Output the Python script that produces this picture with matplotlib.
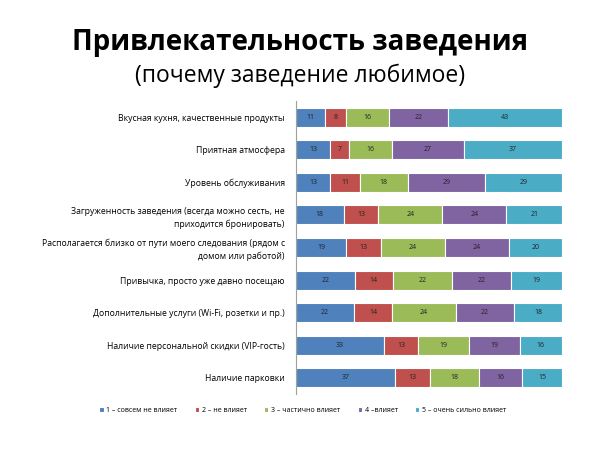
import matplotlib.pyplot as plt
import numpy as np

plt.rcParams['font.family'] = ['Open Sans', 'DejaVu Sans']

categories = [
    'Вкусная кухня, качественные продукты',
    'Приятная атмосфера',
    'Уровень обслуживания',
    'Загруженность заведения (всегда можно сесть, не\nприходится бронировать)',
    'Располагается близко от пути моего следования (рядом с\nдомом или работой)',
    'Привычка, просто уже давно посещаю',
    'Дополнительные услуги (Wi-Fi, розетки и пр.)',
    'Наличие персональной скидки (VIP-гость)',
    'Наличие парковки',
]
series_names = ['1 – совсем не влияет', '2 – не влияет', '3 – частично влияет',
                '4 –влияет', '5 – очень сильно влияет']
s1 = [11, 13, 13, 18, 19, 22, 22, 33, 37]
s2 = [8, 7, 11, 13, 13, 14, 14, 13, 13]
s3 = [16, 16, 18, 24, 24, 22, 24, 19, 18]
s4 = [22, 27, 29, 24, 24, 22, 22, 19, 16]
s5 = [43, 37, 29, 21, 20, 19, 18, 16, 15]
colors = ['#4F81BD', '#C0504D', '#9BBB59', '#8064A2', '#4BACC6']

fig = plt.figure(figsize=(6, 4.5), dpi=100)
ax = fig.add_axes([0.493, 0.124, 0.444, 0.652])

data = np.array([s1, s2, s3, s4, s5], dtype=float)
pct = data / data.sum(axis=0) * 100
y = np.arange(len(categories))
left = np.zeros(len(categories))
for i in range(5):
    bars = ax.barh(y, pct[i], left=left, height=0.58, color=colors[i],
                   edgecolor='white', linewidth=0.8, label=series_names[i])
    for j, b in enumerate(bars):
        ax.text(left[j] + pct[i][j] / 2, y[j], str(int(data[i][j])),
                ha='center', va='center', fontsize=5, color='#222222')
    left += pct[i]

ax.set_xlim(0, 100)
ax.set_ylim(len(categories) - 0.5, -0.5)
ax.set_yticks(y)
ax.set_yticklabels(categories, fontsize=6.2, linespacing=1.5)
ax.tick_params(axis='y', length=0, pad=8)
ax.set_xticks([])
for s in ['top', 'right', 'bottom']:
    ax.spines[s].set_visible(False)
ax.spines['left'].set_color('#A0A0A0')

fig.text(0.5, 0.905, 'Привлекательность заведения', ha='center', va='center',
         fontsize=20, fontweight='bold')
fig.text(0.5, 0.832, '(почему заведение любимое)', ha='center', va='center',
         fontsize=16.5)

fig.legend(loc='center', bbox_to_anchor=(0.505, 0.088), ncol=5, fontsize=5,
           frameon=False, handlelength=0.6, handleheight=0.6,
           handletextpad=0.4, columnspacing=2.5)

fig.savefig('out.png', dpi=100)
